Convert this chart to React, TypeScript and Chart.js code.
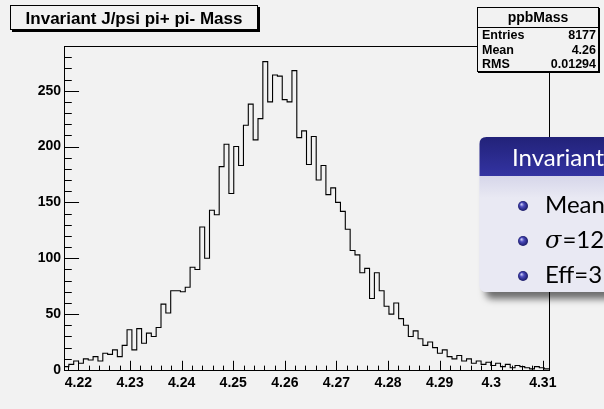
import React, { useEffect, useRef } from 'react';
import { Chart, registerables } from 'chart.js';

Chart.register(...registerables);

// ---- histogram data ----
const histTitle = 'Invariant J/psi pi+ pi- Mass';
const histName = 'ppbMass';
const statLabels = ['Entries', 'Mean', 'RMS'];
const statValues = ['8177', '4.26', '0.01294'];

const xMin = 4.2172;
const binWidth = 0.00094;
const binCounts = [
  3, 5, 8, 6, 10, 9, 12, 8, 15, 14,
  18, 12, 22, 36, 18, 37, 24, 33, 30, 38,
  59, 51, 71, 71, 70, 74, 92, 90, 128, 100,
  143, 139, 182, 202, 158, 200, 183, 219, 238, 206,
  225, 276, 240, 264, 263, 242, 240, 268, 208, 214,
  184, 209, 170, 183, 157, 163, 150, 142, 126, 107,
  103, 87, 91, 64, 87, 71, 57, 50, 60, 46,
  40, 30, 35, 28, 22, 25, 20, 15, 18, 12,
  10, 13, 8, 10, 6, 8, 5, 7, 4, 6,
  3, 5, 2, 4, 3, 2, 1, 3, 2, 1,
];
const xMax = xMin + binCounts.length * binWidth;

const xTickValues = [4.22, 4.23, 4.24, 4.25, 4.26, 4.27, 4.28, 4.29, 4.3, 4.31];
const xTickLabels = ['4.22', '4.23', '4.24', '4.25', '4.26', '4.27', '4.28', '4.29', '4.3', '4.31'];
const xMinorStep = 0.002;
const yTickValues = [0, 50, 100, 150, 200, 250];
const yTickLabels = ['0', '50', '100', '150', '200', '250'];
const yMinorStep = 10;
const yMax = 290;

// ---- slide block overlay ----
const blockTitle = 'Invariant';
const blockItems = [
  { symbol: '', text: 'Mean' },
  { symbol: 'σ', text: '=12' },
  { symbol: '', text: 'Eff=3' },
];

const BG = '#f2f2f2';
const ROOT_FONT = "'Liberation Sans', Arial, Helvetica, sans-serif";
const SLIDE_FONT = "Lato, 'Noto Sans', sans-serif";

function drawRootBox(ctx: CanvasRenderingContext2D, x: number, y: number, w: number, h: number, shadow: number) {
  ctx.fillStyle = '#000';
  ctx.fillRect(x + shadow, y + shadow, w, h);
  ctx.fillStyle = BG;
  ctx.fillRect(x, y, w, h);
  ctx.strokeStyle = '#000';
  ctx.lineWidth = 1;
  ctx.strokeRect(x + 0.5, y + 0.5, w - 1, h - 1);
}

function roundedPath(ctx: CanvasRenderingContext2D, x: number, y: number, w: number, h: number, rt: number, rb: number) {
  ctx.beginPath();
  ctx.moveTo(x + rt, y);
  ctx.lineTo(x + w - rt, y);
  ctx.quadraticCurveTo(x + w, y, x + w, y + rt);
  ctx.lineTo(x + w, y + h - rb);
  ctx.quadraticCurveTo(x + w, y + h, x + w - rb, y + h);
  ctx.lineTo(x + rb, y + h);
  ctx.quadraticCurveTo(x, y + h, x, y + h - rb);
  ctx.lineTo(x, y + rt);
  ctx.quadraticCurveTo(x, y, x + rt, y);
  ctx.closePath();
}

const rootStyle = {
  id: 'rootStyle',
  beforeDraw(chart: any) {
    const { ctx, width, height } = chart;
    ctx.save();
    ctx.fillStyle = BG;
    ctx.fillRect(0, 0, width, height);
    ctx.restore();
  },
  afterDatasetsDraw(chart: any) {
    const { ctx, chartArea: a, scales } = chart;
    const x = scales.x;
    const y = scales.y;
    ctx.save();
    ctx.strokeStyle = '#000';
    ctx.lineWidth = 1;
    const L = Math.round(a.left) + 0.5;
    const R = Math.round(a.right) + 0.5;
    const T = Math.round(a.top) + 0.5;
    const B = Math.round(a.bottom) + 0.5;
    ctx.strokeRect(L, T, R - L, B - T);

    const w = a.right - a.left;
    const h = a.bottom - a.top;
    ctx.beginPath();
    // y ticks, pointing into the frame
    for (let v = 0; v <= yMax + 1e-9; v += yMinorStep) {
      const py = Math.round(y.getPixelForValue(v)) + 0.5;
      const major = yTickValues.includes(v);
      const len = major ? 0.03 * w : 0.015 * w;
      ctx.moveTo(L, py);
      ctx.lineTo(L + len, py);
    }
    // x ticks
    const first = Math.ceil(xMin / xMinorStep - 1e-6);
    for (let k = first; k * xMinorStep <= xMax + 1e-9; k++) {
      const v = k * xMinorStep;
      const px = Math.round(x.getPixelForValue(v)) + 0.5;
      const major = xTickValues.some((t) => Math.abs(t - v) < 1e-6);
      const len = major ? 0.03 * h : 0.015 * h;
      ctx.moveTo(px, B);
      ctx.lineTo(px, B - len);
    }
    ctx.stroke();
    ctx.restore();
  },
  afterDraw(chart: any) {
    const { ctx } = chart;
    ctx.save();

    // title box
    drawRootBox(ctx, 10, 5, 248, 25, 2);
    ctx.fillStyle = '#000';
    ctx.font = `bold 17px ${ROOT_FONT}`;
    ctx.textAlign = 'center';
    ctx.textBaseline = 'alphabetic';
    ctx.fillText(histTitle, 134, 24);

    // statistics box
    const sx = 477, sy = 7, sw = 122, sh = 65;
    drawRootBox(ctx, sx, sy, sw, sh, 1);
    ctx.beginPath();
    ctx.moveTo(sx, 27.5);
    ctx.lineTo(sx + sw, 27.5);
    ctx.stroke();
    ctx.fillStyle = '#000';
    ctx.font = `bold 14px ${ROOT_FONT}`;
    ctx.textAlign = 'center';
    ctx.fillText(histName, sx + sw / 2, 22);
    ctx.font = `bold 12.5px ${ROOT_FONT}`;
    const rowY = [39, 54, 68];
    statLabels.forEach((lab, i) => {
      ctx.textAlign = 'left';
      ctx.fillText(lab, 482, rowY[i]);
      ctx.textAlign = 'right';
      ctx.fillText(statValues[i], 596, rowY[i]);
    });

    // slide block drawn on top
    const bx = 479.5, by = 137, bw = 300, bh = 155, hh = 39, r = 7;
    ctx.save();
    ctx.shadowColor = 'rgba(0,0,0,0.55)';
    ctx.shadowBlur = 7;
    ctx.shadowOffsetX = 6;
    ctx.shadowOffsetY = 7;
    roundedPath(ctx, bx, by, bw, bh, r, r);
    ctx.fillStyle = '#e6e6f1';
    ctx.fill();
    ctx.restore();

    // body
    const body = ctx.createLinearGradient(0, by + hh, 0, by + hh + 22);
    body.addColorStop(0, '#d6d6ea');
    body.addColorStop(1, '#e9e9f3');
    roundedPath(ctx, bx, by + hh, bw, bh - hh, 0, r);
    ctx.fillStyle = body;
    ctx.fill();

    // header
    const head = ctx.createLinearGradient(0, by, 0, by + hh);
    head.addColorStop(0, '#222279');
    head.addColorStop(1, '#3333a2');
    roundedPath(ctx, bx, by, bw, hh, r, 0);
    ctx.fillStyle = head;
    ctx.fill();

    ctx.fillStyle = '#ffffff';
    ctx.font = `24px ${SLIDE_FONT}`;
    ctx.textAlign = 'left';
    ctx.fillText(blockTitle, 512, by + 29);

    const itemY = [206, 241, 276];
    blockItems.forEach((it, i) => {
      const cy = itemY[i];
      const cx = 523;
      const g = ctx.createRadialGradient(cx - 1.6, cy - 1.8, 0.4, cx, cy, 5.2);
      g.addColorStop(0, '#c4c4ef');
      g.addColorStop(0.35, '#4b4bbd');
      g.addColorStop(1, '#161661');
      ctx.beginPath();
      ctx.arc(cx, cy, 5, 0, Math.PI * 2);
      ctx.fillStyle = g;
      ctx.fill();

      let tx = 545;
      ctx.fillStyle = '#000';
      if (it.symbol) {
        ctx.font = `italic 24px 'DejaVu Serif', 'Liberation Serif', serif`;
        ctx.fillText(it.symbol, tx, cy + 7);
        tx += ctx.measureText(it.symbol).width + 1;
      }
      ctx.font = `24px ${SLIDE_FONT}`;
      ctx.fillText(it.text, tx, cy + 7);
    });

    ctx.restore();
  },
};

export default function App() {
  const canvasRef = useRef<HTMLCanvasElement | null>(null);

  useEffect(() => {
    if (!canvasRef.current) return;
    const points = binCounts.map((c, i) => ({ x: xMin + i * binWidth, y: c }));
    points.push({ x: xMax, y: binCounts[binCounts.length - 1] });

    const tickFont = { family: ROOT_FONT, size: 14, weight: 'bold' as const };

    const chart = new Chart(canvasRef.current, {
      type: 'line',
      data: {
        datasets: [
          {
            data: points,
            borderColor: '#000',
            borderWidth: 1.1,
            pointRadius: 0,
            fill: false,
            stepped: 'before',
          },
        ],
      },
      options: {
        animation: false,
        responsive: false,
        maintainAspectRatio: false,
        devicePixelRatio: 1,
        layout: { padding: { left: 0, top: 46, right: 55, bottom: 0 } },
        plugins: { legend: { display: false }, tooltip: { enabled: false }, title: { display: false } },
        scales: {
          x: {
            type: 'linear',
            min: xMin,
            max: xMax,
            afterBuildTicks: (s: any) => {
              s.ticks = xTickValues.map((v) => ({ value: v }));
            },
            afterFit: (s: any) => {
              s.height = 39;
            },
            ticks: {
              callback: (_v: any, i: number) => xTickLabels[i],
              font: tickFont,
              color: '#000',
              padding: 5,
              maxRotation: 0,
              autoSkip: false,
            },
            grid: { display: false, drawTicks: false },
            border: { display: false },
          },
          y: {
            type: 'linear',
            min: 0,
            max: yMax,
            afterBuildTicks: (s: any) => {
              s.ticks = yTickValues.map((v) => ({ value: v }));
            },
            afterFit: (s: any) => {
              s.width = 64;
            },
            ticks: {
              callback: (_v: any, i: number) => yTickLabels[i],
              font: tickFont,
              color: '#000',
              padding: 3,
              autoSkip: false,
            },
            grid: { display: false, drawTicks: false },
            border: { display: false },
          },
        },
      },
      plugins: [rootStyle],
    });
    return () => chart.destroy();
  }, []);

  return (
    <div style={{ position: 'fixed', left: 0, top: 0, width: 604, height: 409, background: BG }}>
      <canvas ref={canvasRef} width={604} height={409} style={{ display: 'block', width: 604, height: 409 }} />
    </div>
  );
}
